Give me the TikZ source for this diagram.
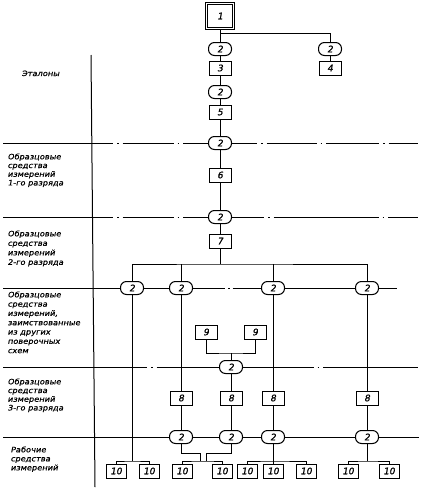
\documentclass[tikz,border=0pt]{standalone}
\usepackage{fontspec}
\newfontfamily\gost[FakeStretch=1.1,FakeSlant=0.2,FakeBold=0.6]{DejaVu Sans}
\newfontfamily\gostnum[FakeSlant=0.2,FakeBold=1.2]{DejaVu Sans}
\begin{document}
\begin{tikzpicture}[x=1pt,y=-1pt,line width=1pt,
  box/.style={draw,fill=white,minimum width=22pt,minimum height=14pt,inner sep=0pt,
    font=\gostnum\fontsize{9}{9}\selectfont},
  tbox/.style={box,minimum width=20pt},
  ov/.style={draw,fill=white,rounded corners=6pt,minimum width=23pt,minimum height=13pt,inner sep=0pt,
    font=\gostnum\fontsize{9}{9}\selectfont},
  lbl/.style={anchor=north west,inner sep=0pt,align=left},
  dd1/.style={dash pattern=on 110pt off 4pt on 1.5pt off 4pt on 51pt off 4pt on 1.5pt off 4pt on 74pt off 4pt on 1.5pt off 4pt on 50pt off 4pt on 1.5pt off 4pt on 53pt off 4pt on 1.5pt off 4pt on 40pt off 4pt},
  dd2/.style={dash pattern=on 110pt off 4pt on 1.5pt off 4pt on 51pt off 4pt on 1.5pt off 4pt on 81pt off 4pt on 1.5pt off 4pt on 105pt off 4pt on 1.5pt off 4pt on 40pt off 4pt},
  dd3/.style={dash pattern=on 222pt off 3pt on 1.5pt off 3pt on 200pt off 3pt},
  dd4/.style={dash pattern=on 144pt off 4pt on 1.5pt off 4pt on 157pt off 4pt on 1.5pt off 4pt on 120pt off 4pt}]
\useasboundingbox (0,0) rectangle (430,496);

% dividing lines
\draw[dd1] (3,143) -- (418,143);
\draw[dd2] (3,217) -- (418,217);
\draw[dd3] (3,288) -- (397,288);
\draw[dd4] (3,367) -- (418,367);
\draw (3,437) -- (419,437);
\draw (91,55) -- (95,487);

% row labels
\node[lbl,font=\gost\fontsize{7.5}{9}\selectfont] (l1) at (21,70) {Эталоны};
\node[lbl,font=\gost\fontsize{7.5}{8.7}\selectfont] (l2) at (7,153) {Образцовые\\средства\\измерений\\1-го разряда};
\node[lbl,font=\gost\fontsize{7.5}{9.5}\selectfont] (l3) at (7,230) {Образцовые\\средства\\измерений\\2-го разряда};
\node[lbl,font=\gost\fontsize{7.5}{9.3}\selectfont] (l4) at (7,291) {Образцовые\\средства\\измерений,\\заимствованные\\из других\\поверочных\\схем};
\node[lbl,font=\gost\fontsize{7.5}{8.7}\selectfont] (l5) at (7,378) {Образцовые\\средства\\измерений\\3-го разряда};
\node[lbl,font=\gost\fontsize{7.5}{9}\selectfont] (l6) at (10,446) {Рабочие\\средства\\измерений};

% top part
\node[box,double,double distance=1.2pt,minimum width=27pt,minimum height=25pt] (b1) at (220,16) {1};
\node[ov] (o1) at (220,49) {2};
\node[box] (b3) at (220,68) {3};
\node[ov] (o2) at (220,92) {2};
\node[box] (b5) at (220,112) {5};
\node[ov] (o3) at (220,143) {2};
\node[box] (b6) at (220,175) {6};
\node[ov] (o4) at (220,217) {2};
\node[box] (b7) at (220,241) {7};
\node[ov] (o5) at (330,49) {2};
\node[box] (b4) at (330,68) {4};

% row of four
\node[ov] (pA) at (132,288) {2};
\node[ov] (pB) at (181,288) {2};
\node[ov] (pC) at (273,288) {2};
\node[ov] (pD) at (367,288) {2};

\node[box] (n1) at (206,332) {9};
\node[box] (n2) at (255,332) {9};
\node[ov] (pM) at (231,367) {2};

\node[box] (eB) at (181,398) {8};
\node[box] (eM) at (231,398) {8};
\node[box] (eC) at (273,398) {8};
\node[box] (eD) at (367,398) {8};

\node[ov] (qB) at (181,437) {2};
\node[ov] (qM) at (231,437) {2};
\node[ov] (qC) at (273,437) {2};
\node[ov] (qD) at (367,437) {2};

\node[tbox] (t1) at (116,471) {10};
\node[tbox] (t2) at (149,471) {10};
\node[tbox] (t3) at (182,471) {10};
\node[tbox] (t4) at (222,471) {10};
\node[tbox] (t5) at (247,471) {10};
\node[tbox] (t6) at (273,471) {10};
\node[tbox] (t7) at (306,471) {10};
\node[tbox] (t8) at (348,471) {10};
\node[tbox] (t9) at (389,471) {10};

% connectors
\coordinate (j1) at (220,33);
\draw (b1) -- (o1);
\draw (j1) -| (o5.north);
\draw (o5) -- (b4);
\draw (o1) -- (b3);
\draw (b3) -- (o2);
\draw (o2) -- (b5);
\draw (b5) -- (o3);
\draw (o3) -- (b6);
\draw (b6) -- (o4);
\draw (o4) -- (b7);

\coordinate (j2) at (220,264);
\draw (b7) -- (j2);
\draw (pA.north) |- (j2) -| (pD.north);
\draw (pB.north) -- (pB.north |- j2);
\draw (pC.north) -- (pC.north |- j2);

\coordinate (jA) at (132,461);
\draw (pA) -- (jA);
\draw (t1.north) |- (jA) -| (t2.north);

\draw (pB) -- (eB);
\draw (eB) -- (qB);
\draw (pC) -- (eC);
\draw (eC) -- (qC);
\draw (pD) -- (eD);
\draw (eD) -- (qD);

\coordinate (j9) at (231,353);
\draw (n1.south) |- (j9) -| (n2.south);
\draw (j9) -- (pM);
\draw (pM) -- (eM);
\draw (eM) -- (qM);

\coordinate (kB) at (200,453);
\coordinate (kM) at (206,453);
\coordinate (jB) at (200,461);
\coordinate (jM) at (206,461);
\draw (qB.south) |- (kB) -- (jB);
\draw (qM.south) |- (kM) -- (jM);
\draw (t3.north) |- (jB) -- (jM) -| (t4.north);

\coordinate (jC) at (273,461);
\draw (qC) -- (t6);
\draw (t5.north) |- (jC) -| (t7.north);

\coordinate (jD) at (367,461);
\draw (qD.south) -- (jD);
\draw (t8.north) |- (jD) -| (t9.north);
\end{tikzpicture}
\end{document}
